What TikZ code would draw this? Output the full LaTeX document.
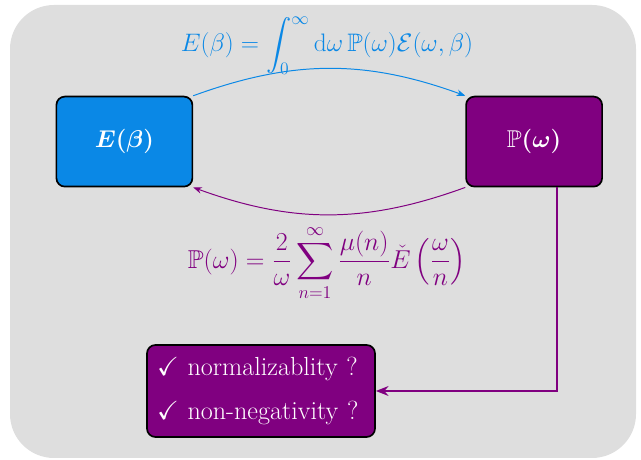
\documentclass[tikz,border=0pt]{standalone}
\usepackage{amsmath,amssymb,bm}
\usepackage{graphicx}
\usepackage{xcolor}
\usetikzlibrary{arrows.meta, positioning, backgrounds}

\definecolor{eblue}{RGB}{10,136,230}
\definecolor{ppurple}{RGB}{128,0,128}
\definecolor{bggray}{RGB}{222,222,222}

\newcommand{\checkfont}{\fontsize{18.6}{22}\selectfont}

\begin{document}
\begin{tikzpicture}[
    >=Stealth,
    quantity/.style={rectangle, draw=black, line width=1.2pt, rounded corners=6pt, minimum width=3.4cm, minimum height=2.25cm, text=white, font=\LARGE},
    checks/.style={rectangle, draw=black, line width=1.2pt, rounded corners=6pt, minimum width=5.7cm, minimum height=2.3cm, text width=5.2cm, fill=ppurple, text=white, font=\checkfont, align=left},
    formula/.style={font=\LARGE},
    thinarrow/.style={->, line width=0.7pt},
]

\useasboundingbox (0,0) rectangle (16.025,11.5);

% === NODES ===
\node[quantity, fill=eblue] (energy) at (3.11,7.96) {$\bm{E(\beta)}$};
\node[quantity, fill=ppurple, right=6.8cm of energy] (density) {$\bm{\mathbb{P}(\omega)}$};

\node[checks] (check) at (6.525,1.725) {$\checkmark$ normalizablity ?\\[0.35cm] $\checkmark$ non-negativity ?};

% formulas
\node[formula, text=eblue] (laplace) at (8.175,10.36) {\scalebox{1.04}{$\displaystyle E(\beta)=\int_0^\infty \mathrm{d}\omega\,\mathbb{P}(\omega)\mathcal{E}(\omega,\beta)$}};
\node[formula, text=ppurple] (inverse) at (8.175,4.92) {\scalebox{1.065}{$\displaystyle \mathbb{P}(\omega)=\frac{2}{\omega}\sum_{n=1}^{\infty}\frac{\mu(n)}{n}\check{E}\left(\frac{\omega}{n}\right)$}};

% Background
\begin{scope}[on background layer]
    \fill[bggray, rounded corners=1.1cm] (0.25,0.05) rectangle (15.9,11.375);
\end{scope}

% === FLOW CONNECTIONS ===
\draw[thinarrow, eblue] (energy.north east) to[bend left=20] (density.north west);
\draw[thinarrow, ppurple] (density.south west) to[bend left=20] (energy.south east);

\draw[->, ppurple, line width=1.4pt, >={Stealth[length=9pt, width=7pt]}] ([xshift=0.565cm]density.south) |- (check.east);

\end{tikzpicture}
\end{document}
